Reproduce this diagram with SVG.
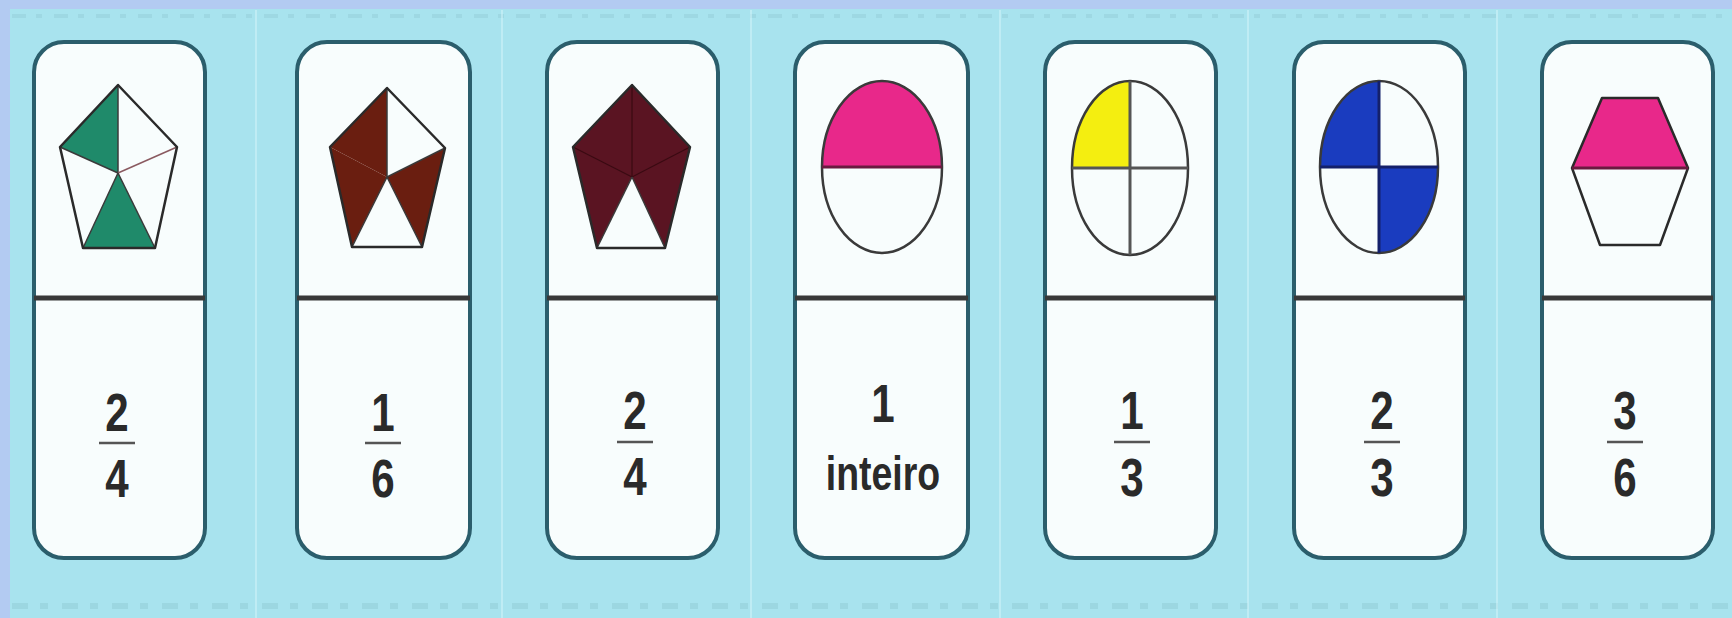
<svg xmlns="http://www.w3.org/2000/svg" width="1732" height="618" viewBox="0 0 1732 618">
<defs>
<style>
.card{fill:#f8fdfd;stroke:#2b5e6c;stroke-width:4}
.div{stroke:#383838;stroke-width:5}
.num{font-family:"Liberation Sans",Arial,sans-serif;font-size:54px;font-weight:bold;fill:#2a2a2a;text-anchor:middle}
.word{font-family:"Liberation Sans",Arial,sans-serif;font-size:48px;font-weight:bold;fill:#2a2a2a;text-anchor:middle}
.bar{stroke:#555;stroke-width:2.5}
.out{fill:none;stroke:#2a2a2a;stroke-width:2.5;stroke-linejoin:round}
.in{stroke:#3a3a3a;stroke-width:1.5}
.sep{stroke:#d6f6fb;stroke-width:2;opacity:0.5}
</style>
</defs>
<rect x="0" y="0" width="1732" height="618" fill="#a8e3ee"/>
<rect x="0" y="0" width="1732" height="9" fill="#b3cbf2"/>
<rect x="0" y="0" width="10" height="618" fill="#b3cbf2"/>
<g id="texture">
<line x1="12" y1="16" x2="1732" y2="16" stroke="#8cc6cf" stroke-width="4" stroke-dasharray="14 10 6 12" opacity="0.35"/>
<line x1="12" y1="606" x2="1732" y2="606" stroke="#8cc6cf" stroke-width="6" stroke-dasharray="16 12 8 14" opacity="0.4"/>
<line class="sep" x1="256" y1="10" x2="256" y2="618"/>
<line class="sep" x1="502" y1="10" x2="502" y2="618"/>
<line class="sep" x1="751" y1="10" x2="751" y2="618"/>
<line class="sep" x1="1000" y1="10" x2="1000" y2="618"/>
<line class="sep" x1="1248" y1="10" x2="1248" y2="618"/>
<line class="sep" x1="1497" y1="10" x2="1497" y2="618"/>
</g>
<g id="card1">
<rect class="card" x="34" y="42" width="171" height="516" rx="30"/>
<line class="div" x1="34" y1="298" x2="205" y2="298"/>
<polygon points="118,85 60,147 118,173" fill="#1f8a6a"/>
<polygon points="118,173 83,248 155,248" fill="#1f8a6a"/>
<line class="in" x1="118" y1="173" x2="118" y2="85"/>
<line class="in" x1="118" y1="173" x2="60" y2="147"/>
<line stroke="#8a5a60" stroke-width="1.5" x1="118" y1="173" x2="177" y2="147"/>
<line class="in" x1="118" y1="173" x2="83" y2="248"/>
<line class="in" x1="118" y1="173" x2="155" y2="248"/>
<polygon class="out" points="118,85 177,147 155,248 83,248 60,147"/>
<text class="num" transform="translate(117,431) scale(0.78,1)">2</text>
<line class="bar" x1="99" y1="443" x2="135" y2="443"/>
<text class="num" transform="translate(117,497) scale(0.78,1)">4</text>
</g>
<g id="card2">
<rect class="card" x="297" y="42" width="173" height="516" rx="30"/>
<line class="div" x1="297" y1="298" x2="470" y2="298"/>
<polygon points="387,88 330,147 387,177" fill="#6a1e10"/>
<polygon points="330,147 352,247 387,177" fill="#6a1e10"/>
<polygon points="387,177 445,148 422,247" fill="#6a1e10"/>
<line class="in" x1="387" y1="177" x2="387" y2="88"/>
<line class="in" x1="387" y1="177" x2="445" y2="148"/>
<line class="in" x1="387" y1="177" x2="352" y2="247"/>
<line class="in" x1="387" y1="177" x2="422" y2="247"/>
<polygon class="out" points="387,88 445,148 422,247 352,247 330,147"/>
<text class="num" transform="translate(383,431) scale(0.78,1)">1</text>
<line class="bar" x1="365" y1="443" x2="401" y2="443"/>
<text class="num" transform="translate(383,497) scale(0.78,1)">6</text>
</g>
<g id="card3">
<rect class="card" x="547" y="42" width="171" height="516" rx="30"/>
<line class="div" x1="547" y1="298" x2="718" y2="298"/>
<polygon points="632,85 690,147 665,248 632,177 597,248 573,147" fill="#5a1422"/>
<line stroke="#3a0a12" stroke-width="1.2" x1="632" y1="177" x2="632" y2="85"/>
<line stroke="#3a0a12" stroke-width="1.2" x1="632" y1="177" x2="573" y2="147"/>
<line stroke="#3a0a12" stroke-width="1.2" x1="632" y1="177" x2="690" y2="147"/>
<line class="in" x1="632" y1="177" x2="597" y2="248"/>
<line class="in" x1="632" y1="177" x2="665" y2="248"/>
<polygon class="out" points="632,85 690,147 665,248 597,248 573,147"/>
<text class="num" transform="translate(635,429) scale(0.78,1)">2</text>
<line class="bar" x1="617" y1="442" x2="653" y2="442"/>
<text class="num" transform="translate(635,495) scale(0.78,1)">4</text>
</g>
<g id="card4">
<rect class="card" x="795" y="42" width="173" height="516" rx="30"/>
<line class="div" x1="795" y1="298" x2="968" y2="298"/>
<path d="M822,167 A60,86 0 0 1 942,167 Z" fill="#e8288a"/>
<ellipse cx="882" cy="167" rx="60" ry="86" fill="none" stroke="#3a3a3a" stroke-width="2.5"/>
<line stroke="#6a1a40" stroke-width="3" x1="822" y1="167" x2="942" y2="167"/>
<text class="num" transform="translate(883,422) scale(0.78,1)">1</text>
<text class="word" transform="translate(883,490) scale(0.78,1)">inteiro</text>
</g>
<g id="card5">
<rect class="card" x="1045" y="42" width="171" height="516" rx="30"/>
<line class="div" x1="1045" y1="298" x2="1216" y2="298"/>
<path d="M1130,168 L1072,168 A58,87 0 0 1 1130,81 Z" fill="#f4ee10"/>
<ellipse cx="1130" cy="168" rx="58" ry="87" fill="none" stroke="#3a3a3a" stroke-width="2.5"/>
<line stroke="#555" stroke-width="3" x1="1130" y1="81" x2="1130" y2="255"/>
<line stroke="#555" stroke-width="3" x1="1072" y1="168" x2="1188" y2="168"/>
<text class="num" transform="translate(1132,429) scale(0.78,1)">1</text>
<line class="bar" x1="1114" y1="442" x2="1150" y2="442"/>
<text class="num" transform="translate(1132,496) scale(0.78,1)">3</text>
</g>
<g id="card6">
<rect class="card" x="1294" y="42" width="171" height="516" rx="30"/>
<line class="div" x1="1294" y1="298" x2="1465" y2="298"/>
<path d="M1379,167 L1320,167 A59,86 0 0 1 1379,81 Z" fill="#1a3cbf"/>
<path d="M1379,167 L1438,167 A59,86 0 0 1 1379,253 Z" fill="#1a3cbf"/>
<ellipse cx="1379" cy="167" rx="59" ry="86" fill="none" stroke="#3a3a3a" stroke-width="2.5"/>
<line stroke="#14206a" stroke-width="3" x1="1379" y1="81" x2="1379" y2="253"/>
<line stroke="#14206a" stroke-width="3" x1="1320" y1="167" x2="1438" y2="167"/>
<text class="num" transform="translate(1382,429) scale(0.78,1)">2</text>
<line class="bar" x1="1364" y1="442" x2="1400" y2="442"/>
<text class="num" transform="translate(1382,496) scale(0.78,1)">3</text>
</g>
<g id="card7">
<rect class="card" x="1542" y="42" width="171" height="516" rx="30"/>
<line class="div" x1="1542" y1="298" x2="1713" y2="298"/>
<polygon points="1602,98 1658,98 1688,168 1572,168" fill="#e8288a"/>
<polygon class="out" points="1602,98 1658,98 1688,168 1660,245 1600,245 1572,168"/>
<line stroke="#6a1a40" stroke-width="3" x1="1572" y1="168" x2="1688" y2="168"/>
<text class="num" transform="translate(1625,429) scale(0.78,1)">3</text>
<line class="bar" x1="1607" y1="442" x2="1643" y2="442"/>
<text class="num" transform="translate(1625,496) scale(0.78,1)">6</text>
</g>
</svg>
